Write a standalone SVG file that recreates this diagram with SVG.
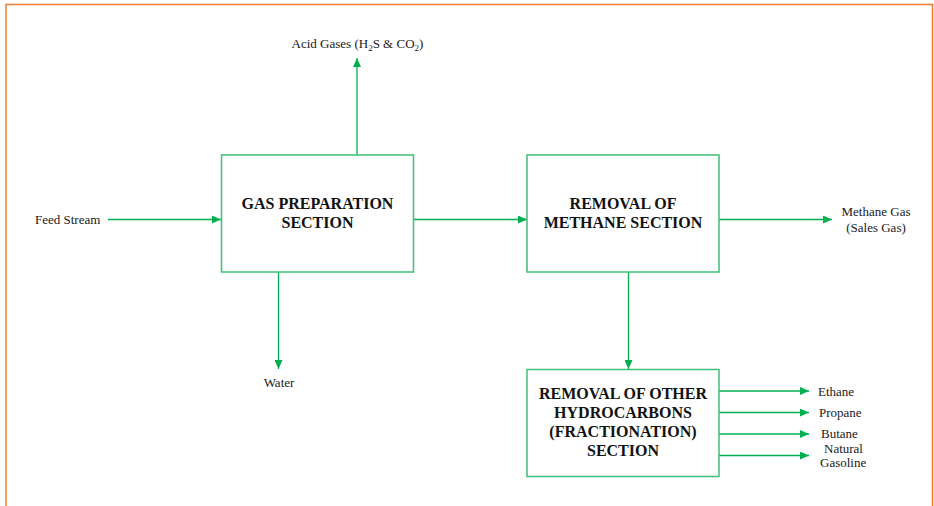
<svg xmlns="http://www.w3.org/2000/svg" width="934" height="506" viewBox="0 0 934 506">
  <defs>
    <marker id="arrow" markerUnits="userSpaceOnUse" markerWidth="10" markerHeight="8" refX="9" refY="4" orient="auto">
      <path d="M0,0 L9,4 L0,8 Z" fill="#00B050"/>
    </marker>
    <style>
      .box { fill: #ffffff; stroke: #3DC07A; stroke-width: 1.5; }
      .flow { fill: none; stroke: #00B050; stroke-width: 1.3; marker-end: url(#arrow); }
      text { font-family: 'Liberation Serif', 'Times New Roman', Times, 'DejaVu Serif', serif; }
      .title { font-weight: bold; font-size: 16px; fill: #111111; text-anchor: middle; }
      .label { font-size: 13px; fill: #1a1a1a; }
      .frame { fill: none; stroke: #ED7D31; stroke-width: 1.5; }
    </style>
  </defs>

  <rect width="934" height="506" fill="#ffffff"/>
  <!-- page frame (open at the bottom) -->
  <path class="frame" d="M6,506 L6,4.5 L932.5,4.5 L932.5,506"/>

  <!-- connectors -->
  <g id="connectors">
    <line class="flow" x1="108" y1="219.5" x2="221" y2="219.5"/>
    <line class="flow" x1="357" y1="155" x2="357" y2="58"/>
    <line class="flow" x1="278.5" y1="272" x2="278.5" y2="369"/>
    <line class="flow" x1="414" y1="219.5" x2="527" y2="219.5"/>
    <line class="flow" x1="719" y1="219.5" x2="832" y2="219.5"/>
    <line class="flow" x1="628.5" y1="272" x2="628.5" y2="369"/>
    <line class="flow" x1="719" y1="391" x2="809" y2="391"/>
    <line class="flow" x1="719" y1="412.5" x2="809" y2="412.5"/>
    <line class="flow" x1="719" y1="434" x2="809" y2="434"/>
    <line class="flow" x1="719" y1="455.5" x2="809" y2="455.5"/>
  </g>

  <!-- process blocks -->
  <g id="gas-preparation">
    <rect class="box" x="221.5" y="155" width="192" height="117"/>
    <text class="title" x="317.5" y="209">GAS PREPARATION</text>
    <text class="title" x="317.5" y="228">SECTION</text>
  </g>

  <g id="methane-removal">
    <rect class="box" x="527" y="155" width="192" height="117"/>
    <text class="title" x="623" y="209">REMOVAL OF</text>
    <text class="title" x="623" y="228">METHANE SECTION</text>
  </g>

  <g id="fractionation">
    <rect class="box" x="527" y="369.5" width="192" height="107"/>
    <text class="title" x="623" y="399">REMOVAL OF OTHER</text>
    <text class="title" x="623" y="418">HYDROCARBONS</text>
    <text class="title" x="623" y="437">(FRACTIONATION)</text>
    <text class="title" x="623" y="456">SECTION</text>
  </g>

  <!-- stream labels -->
  <g id="feed-stream">
    <text class="label" x="35" y="224">Feed Stream</text>
  </g>
  <g id="acid-gases">
    <text class="label" x="357.5" y="48" text-anchor="middle">Acid Gases (H<tspan font-size="9" dy="3">2</tspan><tspan dy="-3">S &amp; CO</tspan><tspan font-size="9" dy="3">2</tspan><tspan dy="-3">)</tspan></text>
  </g>
  <g id="water">
    <text class="label" x="279" y="387" text-anchor="middle">Water</text>
  </g>
  <g id="methane-gas">
    <text class="label" x="876" y="216" text-anchor="middle">Methane Gas</text>
    <text class="label" x="876" y="232" text-anchor="middle">(Sales Gas)</text>
  </g>
  <g id="ethane">
    <text class="label" x="818" y="396">Ethane</text>
  </g>
  <g id="propane">
    <text class="label" x="819" y="417">Propane</text>
  </g>
  <g id="butane">
    <text class="label" x="821" y="438">Butane</text>
  </g>
  <g id="natural-gasoline">
    <text class="label" x="824" y="453">Natural</text>
    <text class="label" x="820" y="467">Gasoline</text>
  </g>
</svg>
